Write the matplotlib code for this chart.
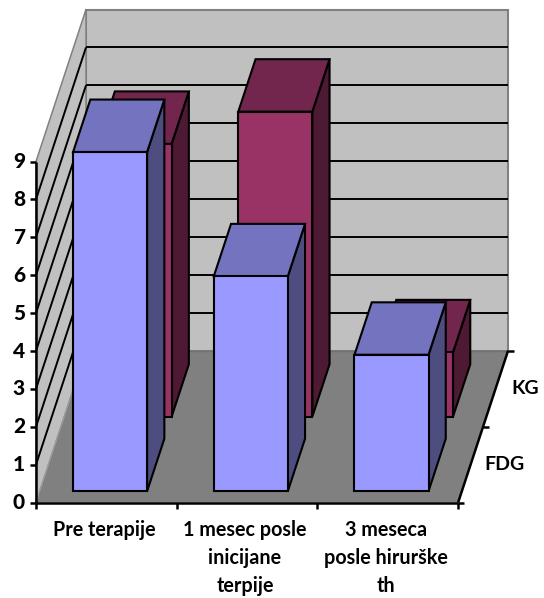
import matplotlib
matplotlib.use('Agg')
import matplotlib.pyplot as plt

categories = ['Pre terapije', '1 mesec posle\ninicijane\nterpije', '3 meseca\nposle hirurške\nth']
series_names = ['FDG', 'KG']
fdg_values = [8.95, 5.67, 3.6]
kg_values = [7.2, 8.05, 1.7]
y_ticks = [0, 1, 2, 3, 4, 5, 6, 7, 8, 9]

# pixel geometry of the oblique projection
X0, Y0 = 36, 502.6
CAT_W = 140.7
UNIT_H = 37.9
DEPTH_DX = 25
DEPTH_DY = 76
BAR_LEFT = 0.237
BAR_RIGHT = 0.763
ROW_START = [0.15, 1.13]
ROW_DEPTH = 0.69
Y_MAX = 9
LABEL_BASELINE = 536
LABEL_STEP = 28

plt.rcParams['font.family'] = ['Lato', 'DejaVu Sans']
fig = plt.figure(figsize=(5.44, 5.98), dpi=100)
ax = fig.add_axes([0, 0, 1, 1])
ax.set_xlim(0, 544)
ax.set_ylim(598, 0)
ax.axis('off')


def proj(c, v, d):
    return (X0 + c * CAT_W + d * DEPTH_DX, Y0 - v * UNIT_H - d * DEPTH_DY)


def poly(points, face, edge='none', lw=1.5, z=1):
    xs = [p[0] for p in points]
    ys = [p[1] for p in points]
    ax.fill(xs, ys, facecolor=face, edgecolor=edge, linewidth=lw, zorder=z, joinstyle='miter')


def line(p1, p2, color='black', lw=1.4, z=2):
    ax.plot([p1[0], p2[0]], [p1[1], p2[1]], color=color, lw=lw, zorder=z, solid_capstyle='butt')


# walls and floor
poly([proj(0, 0, 2), proj(3, 0, 2), proj(3, Y_MAX, 2), proj(0, Y_MAX, 2)], '#C0C0C0', '#808080', 1.5)
poly([proj(0, 0, 0), proj(0, 0, 2), proj(0, Y_MAX, 2), proj(0, Y_MAX, 0)], '#C0C0C0', '#808080', 1.1)
for v in y_ticks[1:-1]:
    line(proj(0, v, 0), proj(0, v, 2))
    line(proj(0, v, 2), proj(3, v, 2))
poly([proj(0, 0, 0), proj(3, 0, 0), proj(3, 0, 2), proj(0, 0, 2)], '#808080', 'none', z=3)
line(proj(0, 0, 2), proj(3, 0, 2), '#707070', 1.0, 3)
line(proj(0, 0, 0), proj(0, 0, 2), '#A0A0A0', 0.7, 3)


def draw_bar(c, value, d0, front, top, side, z):
    x0, x1 = c + BAR_LEFT, c + BAR_RIGHT
    d1 = d0 + ROW_DEPTH
    poly([proj(x1, 0, d0), proj(x1, 0, d1), proj(x1, value, d1), proj(x1, value, d0)], side, 'black', z=z)
    poly([proj(x0, value, d0), proj(x1, value, d0), proj(x1, value, d1), proj(x0, value, d1)], top, 'black', z=z)
    poly([proj(x0, 0, d0), proj(x1, 0, d0), proj(x1, value, d0), proj(x0, value, d0)], front, 'black', z=z)


# back row first, then the front row over it
for i, val in enumerate(kg_values):
    draw_bar(i, val, ROW_START[1], '#993366', '#73264D', '#4D1933', 4)
for i, val in enumerate(fdg_values):
    draw_bar(i, val, ROW_START[0], '#9999FF', '#7373BF', '#4D4D80', 5)

# axes
line(proj(0, 0, 0), proj(0, Y_MAX, 0), 'black', 1.8, 6)
line(proj(0, 0, 0), proj(3, 0, 0), 'black', 1.8, 6)
line(proj(3, 0, 0), proj(3, 0, 2), 'black', 1.8, 6)
for v in y_ticks:
    x, y = proj(0, v, 0)
    line((x - 6, y), (x, y), 'black', 1.8, 6)
    ax.text(x - 11, y, str(v), ha='right', va='center', fontsize=15, fontweight='black', color='black')
for c in range(4):
    x, y = proj(c, 0, 0)
    line((x, y), (x, y + 6), 'black', 1.8, 6)
for d in range(3):
    x, y = proj(3, 0, d)
    line((x, y), (x + 6, y), 'black', 1.8, 6)

# one text per line, the multi-line spacing jumps around with the font size
for i, label in enumerate(categories):
    x, y = proj(i + 0.5, 0, 0)
    for j, part in enumerate(label.split('\n')):
        ax.text(x - 2, LABEL_BASELINE + j * LABEL_STEP, part, ha='center', va='baseline', fontsize=14.2,
                fontweight='bold', color='black')

ax.text(505, 465, series_names[0], ha='center', va='center', fontsize=14, fontweight='bold', color='black')
ax.text(525, 388, series_names[1], ha='center', va='center', fontsize=14, fontweight='bold', color='black')

fig.savefig('out.png', dpi=100)
